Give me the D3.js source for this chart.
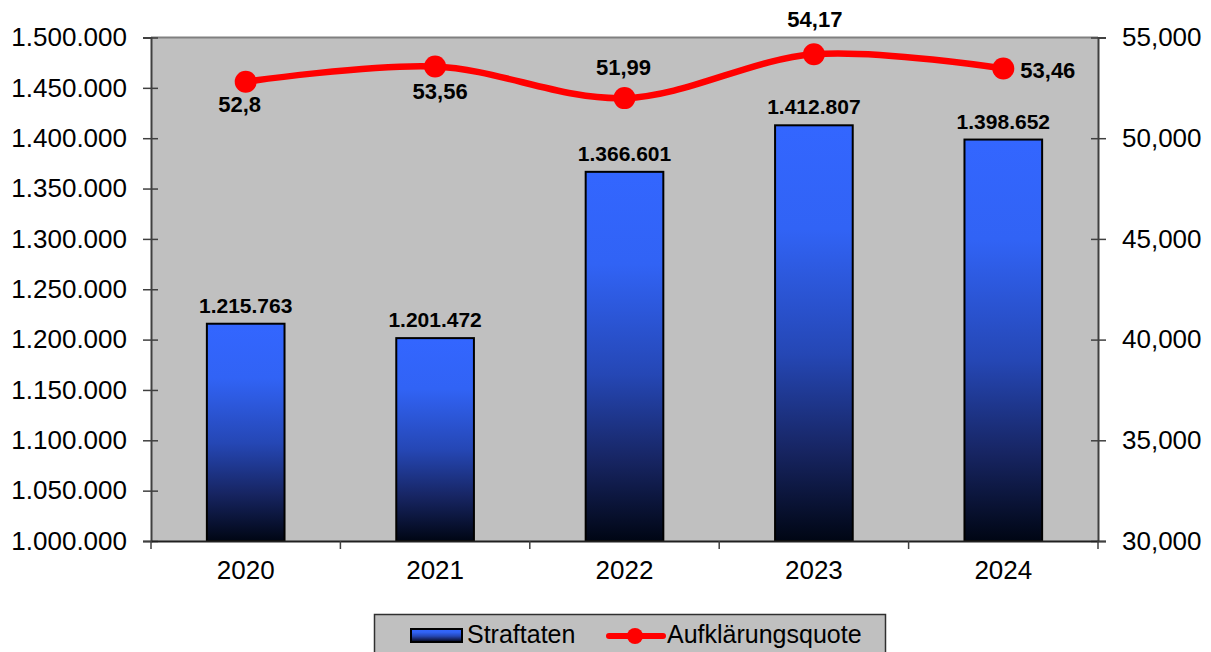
<!DOCTYPE html>
<html><head><meta charset="utf-8">
<script src="https://cdn.jsdelivr.net/npm/d3@7"></script>
<style>
html,body{margin:0;padding:0;background:#fff;overflow:hidden}
text{font-family:"Liberation Sans",Arial,sans-serif}
</style></head>
<body>
<svg id="chart" width="1211" height="652"></svg>
<script>
const years = ["2020","2021","2022","2023","2024"];
const straftaten = [1215763, 1201472, 1366601, 1412807, 1398652];
const quote = [52.8, 53.56, 51.99, 54.17, 53.46];
const leftTicks = [1000000,1050000,1100000,1150000,1200000,1250000,1300000,1350000,1400000,1450000,1500000];
const rightTicks = [30,35,40,45,50,55];
const seriesNames = ["Straftaten","Aufklärungsquote"];

// label placement offsets (style, not data)
const quoteLabelPos = [
  {dx:-6, dy:30, anchor:"middle"},
  {dx:5, dy:32.5, anchor:"middle"},
  {dx:-1, dy:-23, anchor:"middle"},
  {dx:1, dy:-27, anchor:"middle"},
  {dx:17, dy:9.5, anchor:"start"}
];

const de = d3.formatLocale({decimal:",", thousands:".", grouping:[3], currency:["","€"]});
const fmtInt = de.format(",d");
const fmt3 = de.format(".3f");
const fmtQ = v => String(v).replace(".", ",");

const svg = d3.select("#chart");
const L=151, R=1098, T=37.5, B=541;
const FONT = "Liberation Sans, Arial, sans-serif";

const defs = svg.append("defs");
const g = defs.append("linearGradient").attr("id","barGrad").attr("x1",0).attr("y1",0).attr("x2",0).attr("y2",1);
g.append("stop").attr("offset","0%").attr("stop-color","#3366ff");
g.append("stop").attr("offset","25%").attr("stop-color","#3163f5");
g.append("stop").attr("offset","55%").attr("stop-color","#2547b5");
g.append("stop").attr("offset","78%").attr("stop-color","#172563");
g.append("stop").attr("offset","100%").attr("stop-color","#000614");

const x = d3.scaleBand().domain(years).range([L,R]).padding(0);
const yL = d3.scaleLinear().domain([1000000,1500000]).range([B,T]);
const yR = d3.scaleLinear().domain([30,55]).range([B,T]);

// plot background
svg.append("rect").attr("x",L).attr("y",T).attr("width",R-L).attr("height",B-T).attr("fill","#c0c0c0");
svg.append("line").attr("x1",L).attr("x2",R).attr("y1",T).attr("y2",T).attr("stroke","#808080").attr("stroke-width",2);

// bars
const bw = x.bandwidth()*0.41;
svg.append("g").selectAll("rect").data(straftaten).join("rect")
  .attr("x",(d,i)=>x(years[i])+x.bandwidth()/2-bw/2)
  .attr("y",d=>yL(d))
  .attr("width",bw)
  .attr("height",d=>B-yL(d))
  .attr("fill","url(#barGrad)")
  .attr("stroke","#000").attr("stroke-width",2);

svg.append("g").selectAll("text").data(straftaten).join("text")
  .attr("x",(d,i)=>x(years[i])+x.bandwidth()/2)
  .attr("y",d=>yL(d)-11)
  .attr("text-anchor","middle")
  .attr("font-size",21).attr("font-weight","bold").attr("fill","#000")
  .text(d=>fmtInt(d));

// left axis
const axL = svg.append("g").attr("transform",`translate(${L},0)`)
  .call(d3.axisLeft(yL).tickValues(leftTicks).tickFormat(fmtInt).tickSize(8).tickPadding(16));
axL.select(".domain").attr("stroke","#404040").attr("stroke-width",2);
axL.selectAll(".tick line").attr("x1",7).attr("stroke","#404040").attr("stroke-width",1.5);
axL.selectAll(".tick text").attr("font-size",26).attr("fill","#000").attr("font-family",FONT);

// right axis
const axR = svg.append("g").attr("transform",`translate(${R},0)`)
  .call(d3.axisRight(yR).tickValues(rightTicks).tickFormat(fmt3).tickSize(8).tickPadding(16));
axR.select(".domain").attr("stroke","#404040").attr("stroke-width",2);
axR.selectAll(".tick line").attr("x1",-7).attr("stroke","#404040").attr("stroke-width",1.5);
axR.selectAll(".tick text").attr("font-size",26).attr("fill","#000").attr("font-family",FONT);

// bottom axis
const axB = svg.append("g").attr("transform",`translate(0,${B})`)
  .call(d3.axisBottom(x).tickSize(0).tickPadding(20));
axB.select(".domain").attr("stroke","#202020").attr("stroke-width",2);
axB.selectAll(".tick text").attr("font-size",26).attr("fill","#000").attr("font-family",FONT);
// category boundary ticks
const bounds = years.map(y=>x(y)).concat([R]);
svg.append("g").selectAll("line").data(bounds).join("line")
  .attr("x1",d=>d).attr("x2",d=>d).attr("y1",B).attr("y2",B+8)
  .attr("stroke","#404040").attr("stroke-width",1.5);

// line
const cx = i => x(years[i])+x.bandwidth()/2;
const line = d3.line().x((d,i)=>cx(i)).y(d=>yR(d)).curve(d3.curveCardinal.tension(0));
svg.append("path").datum(quote).attr("d",line)
  .attr("fill","none").attr("stroke","#ff0000").attr("stroke-width",6.5).attr("stroke-linecap","round");
svg.append("g").selectAll("circle").data(quote).join("circle")
  .attr("cx",(d,i)=>cx(i)).attr("cy",d=>yR(d)).attr("r",11).attr("fill","#ff0000");
svg.append("g").selectAll("text").data(quote).join("text")
  .attr("x",(d,i)=>cx(i)+quoteLabelPos[i].dx)
  .attr("y",(d,i)=>yR(d)+quoteLabelPos[i].dy)
  .attr("text-anchor",(d,i)=>quoteLabelPos[i].anchor)
  .attr("font-size",22).attr("font-weight","bold").attr("fill","#000")
  .text(d=>fmtQ(d));

// legend
const lg = svg.append("g");
lg.append("rect").attr("x",374.5).attr("y",614.5).attr("width",511).attr("height",50)
  .attr("fill","#c0c0c0").attr("stroke","#303030").attr("stroke-width",1.5);
lg.append("rect").attr("x",411).attr("y",629).attr("width",51).attr("height",13)
  .attr("fill","url(#barGrad)").attr("stroke","#000").attr("stroke-width",2);
lg.append("text").attr("x",467).attr("y",643).attr("font-size",25).attr("fill","#000").text(seriesNames[0]);
lg.append("line").attr("x1",609).attr("x2",663).attr("y1",636).attr("y2",636)
  .attr("stroke","#ff0000").attr("stroke-width",6).attr("stroke-linecap","round");
lg.append("circle").attr("cx",635).attr("cy",636).attr("r",8).attr("fill","#ff0000");
lg.append("text").attr("x",667).attr("y",643).attr("font-size",25).attr("fill","#000").text(seriesNames[1]);
</script>
</body></html>
